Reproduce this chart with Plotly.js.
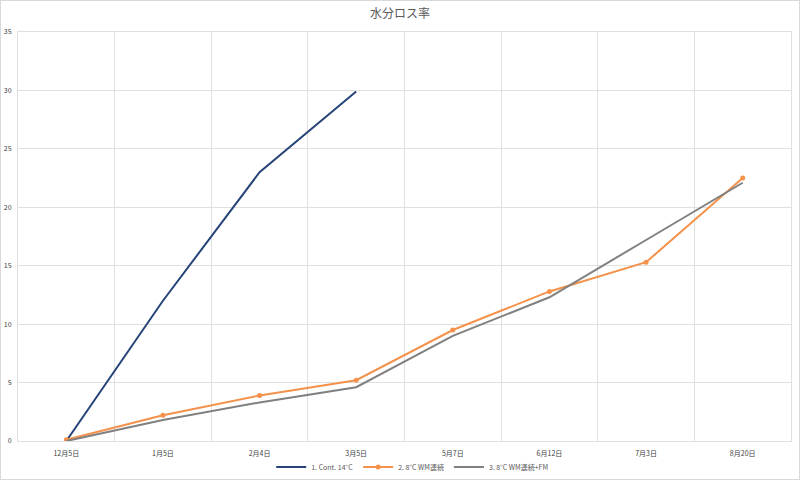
<!DOCTYPE html>
<html>
<head>
<meta charset="utf-8">
<script src="https://cdn.plot.ly/plotly-3.0.1.min.js"></script>
<style>
html,body{margin:0;padding:0;background:#fff;}
#wrap{position:relative;width:800px;height:480px;}
#chart{width:800px;height:480px;}
#frame{position:absolute;left:0;top:0;width:800px;height:480px;box-sizing:border-box;border:1px solid #d9d9d9;pointer-events:none;}
</style>
</head>
<body>
<div id="wrap"><div id="chart"></div><div id="frame"></div></div>
<script>
const categories = ["12月5日","1月5日","2月4日","3月5日","5月7日","6月12日","7月3日","8月20日"];
const cont14 = [0, 12.0, 23.0, 29.9, null, null, null, null];
const wm8 = [0.1, 2.2, 3.9, 5.2, 9.5, 12.8, 15.3, 22.5];
const wm8fm = [0, 1.8, 3.3, 4.6, 9.0, 12.3, 17.2, 22.1];
const seriesNames = ["1. Cont. 14°C", "2. 8°C WM連続", "3. 8°C WM連続+FM"];

const font = "'Noto Sans CJK JP', 'Noto Sans', sans-serif";
const traces = [
  {x: categories, y: cont14, name: seriesNames[0], type: "scatter", mode: "lines",
   line: {color: "#264478", width: 2}},
  {x: categories, y: wm8, name: seriesNames[1], type: "scatter", mode: "lines+markers",
   line: {color: "#F4914B", width: 2}, marker: {color: "#F4914B", size: 5}},
  {x: categories, y: wm8fm, name: seriesNames[2], type: "scatter", mode: "lines",
   line: {color: "#808080", width: 2}}
];
const layout = {
  width: 800, height: 480,
  margin: {l: 18, r: 9, t: 32, b: 39, autoexpand: false},
  paper_bgcolor: "#fff", plot_bgcolor: "#fff",
  font: {family: font, color: "#595959", size: 7},
  title: {text: "水分ロス率", x: 0.5, xanchor: "center", y: 0.972, yanchor: "middle",
          font: {family: font, size: 12, color: "#595959"}},
  showlegend: true,
  legend: {orientation: "h", x: 0.51, xanchor: "center", yref: "container", y: 0.027, yanchor: "middle",
           bgcolor: "rgba(0,0,0,0)",
           font: {family: font, size: 7, color: "#595959"}, tracegroupgap: 0},
  xaxis: {type: "category", range: [-0.5, 7.5], tickson: "boundaries", showgrid: true,
          gridcolor: "#e0e0e0", gridwidth: 1, ticks: "", showline: true, linecolor: "#e0e0e0",
          mirror: true, zeroline: false, tickfont: {size: 7, color: "#404040"}, ticklabelstandoff: 6},
  yaxis: {range: [0, 35], dtick: 5, gridcolor: "#e0e0e0", gridwidth: 1, showline: true,
          linecolor: "#e0e0e0", mirror: true, zeroline: false, ticks: "",
          tickfont: {size: 7, color: "#404040"}, ticklabelstandoff: 4}
};
Plotly.newPlot("chart", traces, layout, {displayModeBar: false, staticPlot: true});
</script>
</body>
</html>
